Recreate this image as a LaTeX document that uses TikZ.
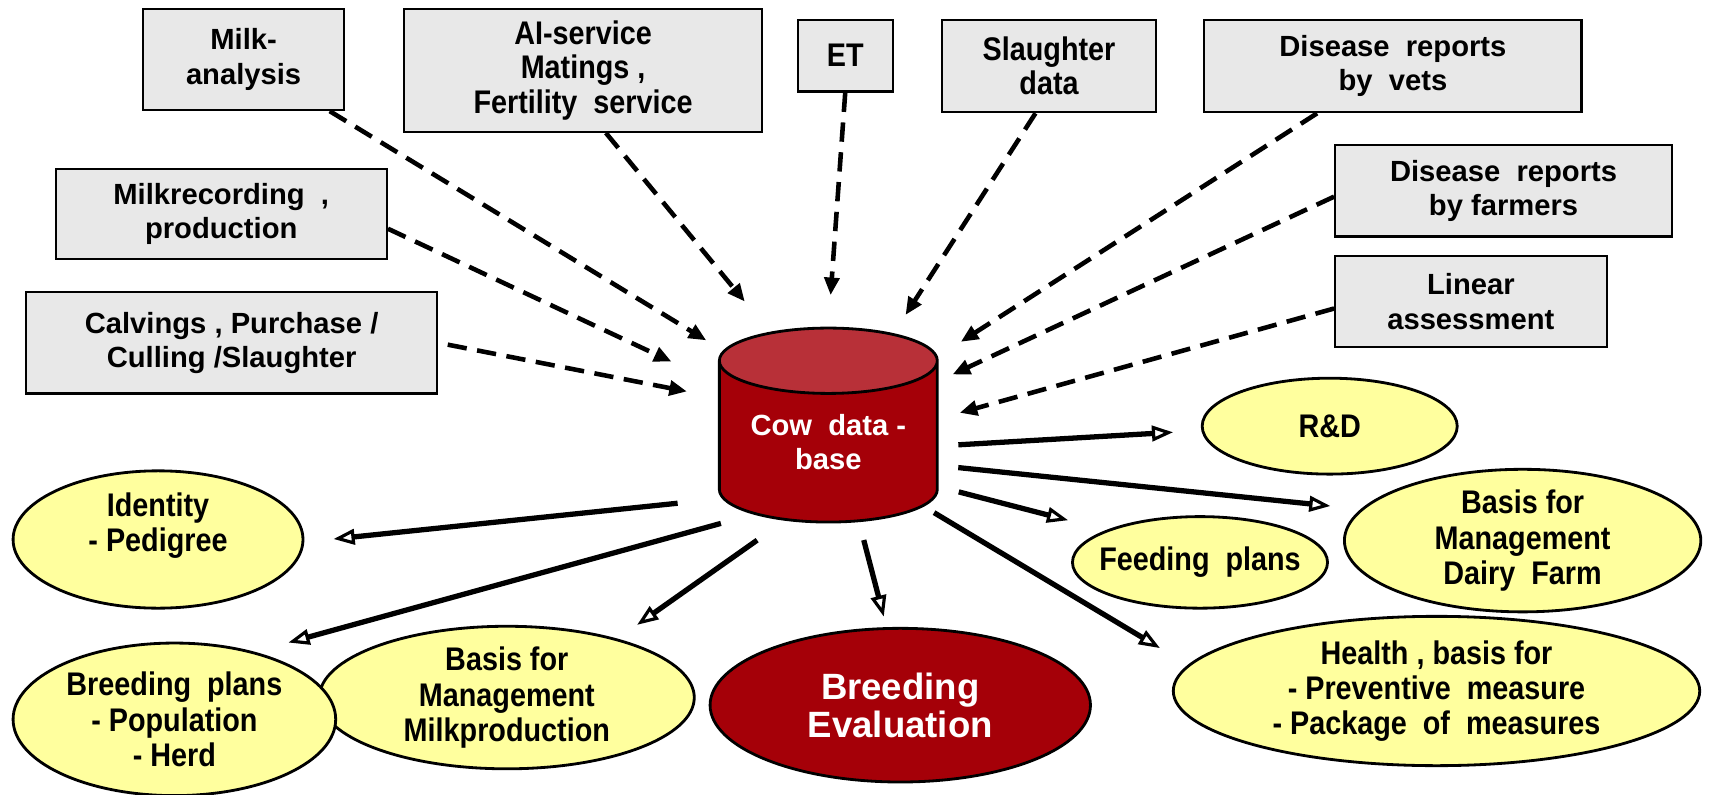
\documentclass[tikz,border=0pt]{standalone}
\usepackage{fontspec}
\setmainfont{Liberation Sans}
\newfontfamily\narrowfont[FakeStretch=0.88]{Liberation Sans}
\usetikzlibrary{shapes.geometric,arrows.meta}
\definecolor{boxgray}{HTML}{E8E8E8}
\definecolor{paleyellow}{HTML}{FFFF9E}
\definecolor{dbred}{HTML}{A50008}
\definecolor{dbtop}{HTML}{B83038}
\newcommand{\px}{0.0109cm}
\tikzset{datasource/.style 2 args={
    draw, fill=boxgray, line width=0.6pt,
    align=center, inner sep=0pt,
    font=\bfseries\fontsize{8.3}{9.8}\selectfont,
    minimum width=#1*\px, minimum height=#2*\px
  },
  narrowsource/.style 2 args={datasource={#1}{#2},
    font=\narrowfont\bfseries\fontsize{9.3}{9.8}\selectfont
  },
  outcome/.style 2 args={ellipse,
    draw, fill=paleyellow, line width=0.8pt,
    align=center, inner sep=0pt,
    font=\narrowfont\bfseries\fontsize{9.3}{10}\selectfont,
    minimum width=#1*\px, minimum height=#2*\px
  },
  feedarrow/.style={line width=1.3pt, dash pattern=on 5.5pt off 3pt,
    -{Triangle[length=5pt,width=4.2pt]}
  },
  outarrow/.style={line width=1.5pt,
    -{Triangle[open,length=6pt,width=4.4pt,line width=0.9pt]}
  }
}

\begin{document}
\begin{tikzpicture}[x=\px, y=-\px]
  \useasboundingbox (0,0) rectangle (1568,729);

  \node[datasource={185}{93}] (milk) at (223.5,54.5) {Milk-\\analysis};
  \node[narrowsource={328}{113}] (ai) at (535,64.5) {AI-service\\Matings ,\\Fertility\ \ service};
  \node[narrowsource={87}{66}] (et) at (775.5,51) {ET};
  \node[narrowsource={197}{85}] (slaughter) at (962.5,60.5) {Slaughter\\data};
  \node[datasource={346}{85}] (vets) at (1278,60.5) {Disease\ \ reports\\by\ \ vets};
  \node[datasource={309}{84}] (farmers) at (1379.5,175) {Disease\ \ reports\\by farmers};
  \node[datasource={249}{83}] (linear) at (1349.5,276.5) {Linear\\assessment};
  \node[datasource={304}{83}] (recording) at (203,196.5) {Milkrecording\ \ ,\\production};
  \node[datasource={377}{93}] (calvings) at (212.5,314.5) {Calvings , Purchase /\\Culling /Slaughter};

  \node[cylinder, shape border rotate=90, aspect=0.42, anchor=shape center,
    draw, line width=0.8pt, cylinder uses custom fill,
    cylinder body fill=dbred, cylinder end fill=dbtop,
    minimum width=200*\px, minimum height=178*\px, inner sep=0pt,
    text=white, align=center, font=\bfseries\fontsize{8.3}{9.6}\selectfont]
    (db) at (760,390) {Cow\ \ data -\\base};

  \node[outcome={234}{88}] (rd) at (1220,391) {R\&D};
  \node[outcome={327}{111}] (dairy) at (1397,496) {Basis for\\Management\\Dairy\ \ Farm};
  \node[outcome={232}{84}, inner xsep=-3pt] (feeding) at (1101,516) {Feeding\ \ plans};
  \node[outcome={483}{137}] (health) at (1318,634) {Health , basis for\\- Preventive\ \ measure\\- Package\ \ of\ \ measures};
  \node[outcome={349}{141}, fill=dbred, text=white,
    font=\bfseries\fontsize{10.4}{10.8}\selectfont] (breedeval) at (826,647) {Breeding\\Evaluation};
  \node[outcome={344}{130}] (milkprod) at (465,640) {Basis for\\Management\\Milkproduction};
  \node[outcome={296}{140}] (breedplans) at (160,660) {Breeding\ \ plans\\- Population\\- Herd};
  \node[outcome={266}{126}] (identity) at (145,495) {Identity\\- Pedigree\\~};

  \draw[feedarrow, shorten >=18*\px] (milk.-31) -- (db.139);
  \draw[feedarrow, shorten >=36*\px] (ai.-70) -- (db.118);
  \draw[feedarrow, shorten >=29*\px] (et.south) -- (db.90);
  \draw[feedarrow, shorten >=20*\px] (slaughter.-106) -- (db.59);
  \draw[feedarrow, shorten >=25*\px] (vets.-148) -- (db.38);
  \draw[feedarrow, shorten >=14*\px] (farmers.182) -- (db.29);
  \draw[feedarrow, shorten >=20*\px] (linear.183) -- (db.12);
  \draw[feedarrow, shorten >=47*\px] (recording.-5) -- (db.152);
  \draw[feedarrow, shorten <=9*\px, shorten >=29*\px] (calvings.east) -- (db.158);

  \draw[outarrow, shorten <=18*\px, shorten >=26*\px] (db.-2) -- (rd.182);
  \draw[outarrow, shorten <=18*\px, shorten >=28*\px] (db.-12) -- (dairy.169);
  \draw[outarrow, shorten <=19*\px, shorten >=36*\px] (db.-22) -- (feeding.161);
  \draw[outarrow, shorten <=11*\px, shorten >=30*\px] (db.-34) -- (health.174);
  \draw[outarrow, shorten <=17*\px, shorten >=10*\px] (db.-69) -- (breedeval.100);
  \draw[outarrow, shorten <=31*\px, shorten >=22*\px] (db.-119) -- (milkprod.28);
  \draw[outarrow, shorten <=31*\px, shorten >=32*\px] (db.-136) -- (breedplans.40);
  \draw[outarrow, shorten <=41*\px, shorten >=27*\px] (db.-152) -- (identity.-1);
\end{tikzpicture}
\end{document}
